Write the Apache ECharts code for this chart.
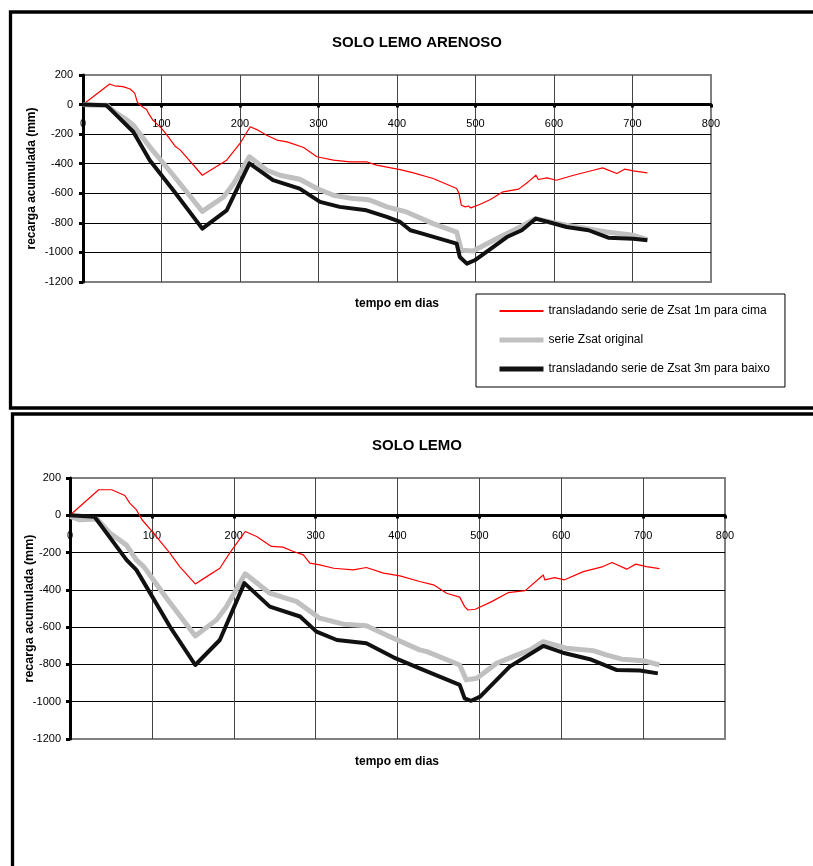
<!DOCTYPE html>
<html>
<head>
<meta charset="utf-8">
<title>Recarga acumulada</title>
<script src="https://cdn.jsdelivr.net/npm/echarts@6/dist/echarts.min.js"></script>
<style>
  html, body { margin: 0; padding: 0; background: #fff; }
  #chart { width: 813px; height: 866px; }
</style>
</head>
<body>
<div id="chart"></div>
<script>
// Cumulative recharge (mm) versus time (days), points as [day, mm]

// --- SOLO LEMO ARENOSO ---
const arenosoCima = [[0,0],[34,139],[40,127],[51,121],[60,105],[66,76],[69,20],[71,5],[77,-20],[81,-33],[84,-65],[89,-105],[100,-161],[107,-207],[117,-280],[124,-308],[152,-478],[183,-376],[200,-263],[213,-150],[223,-173],[234,-207],[247,-240],[260,-252],[281,-290],[298,-353],[319,-376],[340,-387],[361,-387],[374,-410],[404,-440],[421,-462],[446,-500],[476,-568],[479,-602],[482,-681],[487,-692],[491,-686],[494,-699],[506,-674],[519,-642],[535,-590],[555,-572],[567,-523],[577,-478],[580,-507],[591,-496],[603,-512],[625,-478],[650,-444],[662,-428],[680,-466],[690,-437],[701,-448],[719,-462]];
const arenosoOriginal = [[0,0],[10,-5],[30,-5],[43,-60],[55,-100],[64,-139],[85,-286],[115,-478],[152,-722],[179,-625],[192,-534],[212,-353],[234,-444],[251,-478],[276,-505],[298,-568],[319,-613],[344,-636],[361,-642],[366,-647],[387,-692],[412,-726],[446,-805],[476,-862],[482,-986],[497,-990],[531,-896],[557,-828],[576,-771],[595,-794],[616,-816],[667,-862],[701,-884],[719,-913]];
const arenosoBaixo = [[0,0],[30,-5],[64,-184],[85,-376],[115,-579],[152,-839],[183,-715],[212,-398],[242,-511],[276,-568],[302,-658],[327,-692],[361,-715],[387,-760],[404,-794],[417,-850],[429,-868],[476,-941],[480,-1031],[489,-1076],[499,-1053],[540,-896],[559,-850],[577,-771],[616,-828],[644,-850],[669,-900],[701,-907],[719,-918]];

// --- SOLO LEMO ---
const lemoCima = [[0,0],[35,137],[51,137],[67,106],[73,65],[81,30],[88,-24],[102,-96],[122,-203],[134,-275],[153,-368],[167,-329],[183,-284],[195,-203],[214,-87],[228,-114],[246,-167],[260,-171],[273,-194],[285,-212],[293,-257],[305,-266],[322,-284],[346,-293],[362,-280],[383,-310],[403,-325],[427,-355],[444,-373],[460,-418],[476,-439],[482,-490],[486,-508],[495,-504],[515,-463],[535,-415],[556,-404],[578,-320],[580,-346],[592,-334],[604,-346],[627,-302],[651,-275],[662,-253],[680,-289],[691,-262],[704,-275],[720,-286]];
const lemoOriginal = [[0,-6],[12,-24],[33,-20],[49,-96],[69,-160],[81,-239],[90,-275],[118,-445],[153,-647],[179,-561],[191,-490],[214,-314],[244,-418],[277,-463],[305,-552],[334,-584],[362,-593],[391,-651],[427,-722],[436,-731],[476,-803],[484,-883],[497,-874],[521,-794],[541,-758],[562,-722],[578,-678],[606,-713],[639,-726],[655,-749],[674,-772],[700,-780],[720,-803]];
const lemoBaixo = [[0,0],[30,-8],[57,-168],[69,-239],[81,-293],[86,-329],[122,-597],[153,-803],[183,-669],[213,-364],[244,-490],[281,-543],[301,-624],[326,-669],[362,-686],[395,-762],[427,-821],[476,-910],[482,-982],[490,-995],[501,-973],[537,-812],[578,-701],[602,-737],[635,-772],[668,-830],[696,-833],[718,-848]];

// Labels
const chartTitles = ['SOLO LEMO ARENOSO', 'SOLO LEMO'];
const seriesNames = [
  'transladando serie de Zsat 1m para cima',
  'serie Zsat original',
  'transladando serie de Zsat 3m para baixo'
];
const xAxisTitle = 'tempo em dias';
const yAxisTitle = 'recarga acumulada (mm)';

const FONT = 'Arial, "Liberation Sans", sans-serif';
const seriesColors = ['#ff0000', '#c0c0c0', '#111111'];
const seriesWidths = [1.2, 5, 4];
const plainNumber = v => String(v);

// The day axis sits on the y = 0 line, labels just beneath it;
// it is placed there by shifting it up from the grid bottom.
function xAxisFor(gridIndex, shiftUp, labelMargin) {
  return {
    type: 'value', gridIndex: gridIndex, position: 'bottom', offset: -shiftUp,
    min: 0, max: 800, interval: 100,
    axisLine: { onZero: false, lineStyle: { color: '#000', width: 3 } },
    axisTick: { show: true, length: 3, lineStyle: { color: '#000', width: 3 } },
    axisLabel: { color: '#000', fontSize: 11, fontFamily: FONT, margin: labelMargin, formatter: plainNumber },
    splitLine: { show: true, showMinLine: false, showMaxLine: false, lineStyle: { color: '#444', width: 1 } }
  };
}

function yAxisFor(gridIndex, labelMargin, nameGap, nameSize) {
  return {
    type: 'value', gridIndex: gridIndex,
    min: -1200, max: 200, interval: 200,
    name: yAxisTitle, nameLocation: 'middle', nameGap: nameGap, nameMoveOverlap: false,
    nameTextStyle: { color: '#000', fontSize: nameSize, fontWeight: 'bold', fontFamily: FONT },
    axisLine: { show: true, onZero: false, lineStyle: { color: '#000', width: 3 } },
    axisTick: { show: true, length: 4, lineStyle: { color: '#000', width: 3 } },
    axisLabel: { color: '#000', fontSize: 11, fontFamily: FONT, margin: labelMargin, formatter: plainNumber },
    splitLine: { show: true, showMinLine: false, showMaxLine: false, lineStyle: { color: '#000', width: 1 } }
  };
}

function lineSeries(idx, data, axisIndex) {
  return {
    type: 'line', name: seriesNames[idx], data: data,
    xAxisIndex: axisIndex, yAxisIndex: axisIndex,
    showSymbol: false, symbol: 'none', smooth: false, animation: false,
    z: 3 + idx,
    lineStyle: { color: seriesColors[idx], width: seriesWidths[idx], join: 'round' },
    itemStyle: { color: seriesColors[idx] }
  };
}

const chart = echarts.init(document.getElementById('chart'), null, { renderer: 'canvas' });

chart.setOption({
  backgroundColor: '#fff',
  animation: false,
  title: [
    { text: chartTitles[0], left: 417, top: 35, textAlign: 'center', padding: 0,
      textStyle: { fontSize: 15, fontWeight: 'bold', color: '#000', fontFamily: FONT } },
    { text: chartTitles[1], left: 417, top: 438, textAlign: 'center', padding: 0,
      textStyle: { fontSize: 15, fontWeight: 'bold', color: '#000', fontFamily: FONT } }
  ],
  grid: [
    { left: 83, top: 75, width: 628, height: 207, show: true,
      backgroundColor: '#fff', borderColor: '#808080', borderWidth: 2 },
    { left: 70, top: 478, width: 655, height: 261, show: true,
      backgroundColor: '#fff', borderColor: '#808080', borderWidth: 2 }
  ],
  xAxis: [xAxisFor(0, 177.5, 14), xAxisFor(1, 223.5, 15)],
  yAxis: [yAxisFor(0, 10, 45, 12), yAxisFor(1, 9, 34, 12.5)],
  legend: {
    orient: 'vertical', left: 476, top: 294,
    padding: [11, 15, 12, 21],
    itemWidth: 44, itemHeight: 14, itemGap: 17,
    borderColor: '#000', borderWidth: 1, backgroundColor: '#fff',
    selectedMode: false,
    textStyle: { color: '#000', fontSize: 12, fontFamily: FONT },
    data: seriesNames.map((n, i) => ({
      name: n,
      itemStyle: { color: 'rgba(0,0,0,0)', borderColor: 'rgba(0,0,0,0)', borderWidth: 0 },
      lineStyle: { color: seriesColors[i], width: i === 0 ? 2 : 5 }
    }))
  },
  graphic: [
    { type: 'rect', shape: { x: 10.5, y: 12, width: 900, height: 396 },
      style: { fill: null, stroke: '#000', lineWidth: 3.3 }, z: 10 },
    { type: 'rect', shape: { x: 12.5, y: 414, width: 900, height: 600 },
      style: { fill: null, stroke: '#000', lineWidth: 3.3 }, z: 10 },
    { type: 'text', x: 397, y: 304, z: 10,
      style: { text: xAxisTitle, align: 'center', verticalAlign: 'middle',
               font: 'bold 12px ' + FONT, fill: '#000' } },
    { type: 'text', x: 397, y: 762, z: 10,
      style: { text: xAxisTitle, align: 'center', verticalAlign: 'middle',
               font: 'bold 12px ' + FONT, fill: '#000' } }
  ],
  series: [
    lineSeries(0, arenosoCima, 0),
    lineSeries(1, arenosoOriginal, 0),
    lineSeries(2, arenosoBaixo, 0),
    lineSeries(0, lemoCima, 1),
    lineSeries(1, lemoOriginal, 1),
    lineSeries(2, lemoBaixo, 1)
  ]
});
</script>
</body>
</html>
